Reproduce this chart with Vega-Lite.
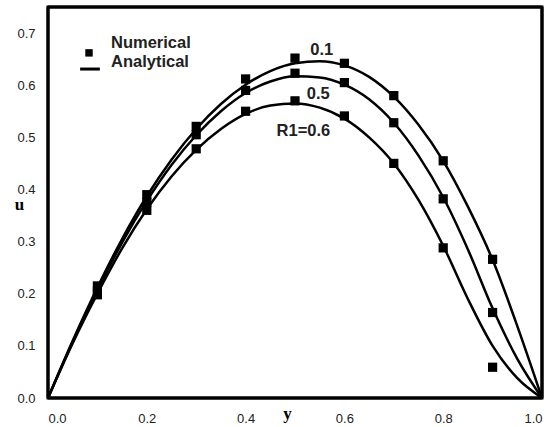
{
  "$schema": "https://vega.github.io/schema/vega-lite/v6.json",
  "width": 494,
  "height": 391,
  "autosize": {"type": "none"},
  "padding": {"left": 48, "top": 7, "right": 17, "bottom": 29},
  "background": "white",
  "view": {"stroke": "black", "strokeWidth": 3},
  "datasets": {
    "analytical": [
      {"x": 0, "u": 0, "s": "0.1"}, {"x": 0.05, "u": 0.110, "s": "0.1"}, {"x": 0.1, "u": 0.212, "s": "0.1"}, {"x": 0.15, "u": 0.305, "s": "0.1"}, {"x": 0.2, "u": 0.387, "s": "0.1"}, {"x": 0.25, "u": 0.457, "s": "0.1"}, {"x": 0.3, "u": 0.516, "s": "0.1"}, {"x": 0.35, "u": 0.564, "s": "0.1"}, {"x": 0.4, "u": 0.601, "s": "0.1"}, {"x": 0.45, "u": 0.627, "s": "0.1"}, {"x": 0.5, "u": 0.642, "s": "0.1"}, {"x": 0.55, "u": 0.646, "s": "0.1"}, {"x": 0.6, "u": 0.638, "s": "0.1"}, {"x": 0.65, "u": 0.616, "s": "0.1"}, {"x": 0.7, "u": 0.578, "s": "0.1"}, {"x": 0.75, "u": 0.524, "s": "0.1"}, {"x": 0.8, "u": 0.455, "s": "0.1"}, {"x": 0.85, "u": 0.367, "s": "0.1"}, {"x": 0.9, "u": 0.265, "s": "0.1"}, {"x": 0.95, "u": 0.138, "s": "0.1"}, {"x": 1.0, "u": 0, "s": "0.1"},
      {"x": 0, "u": 0, "s": "0.5"}, {"x": 0.05, "u": 0.108, "s": "0.5"}, {"x": 0.1, "u": 0.207, "s": "0.5"}, {"x": 0.15, "u": 0.298, "s": "0.5"}, {"x": 0.2, "u": 0.378, "s": "0.5"}, {"x": 0.25, "u": 0.447, "s": "0.5"}, {"x": 0.3, "u": 0.504, "s": "0.5"}, {"x": 0.35, "u": 0.550, "s": "0.5"}, {"x": 0.4, "u": 0.585, "s": "0.5"}, {"x": 0.45, "u": 0.607, "s": "0.5"}, {"x": 0.5, "u": 0.617, "s": "0.5"}, {"x": 0.55, "u": 0.615, "s": "0.5"}, {"x": 0.6, "u": 0.601, "s": "0.5"}, {"x": 0.65, "u": 0.573, "s": "0.5"}, {"x": 0.7, "u": 0.528, "s": "0.5"}, {"x": 0.75, "u": 0.465, "s": "0.5"}, {"x": 0.8, "u": 0.385, "s": "0.5"}, {"x": 0.85, "u": 0.285, "s": "0.5"}, {"x": 0.9, "u": 0.172, "s": "0.5"}, {"x": 0.95, "u": 0.075, "s": "0.5"}, {"x": 1.0, "u": 0, "s": "0.5"},
      {"x": 0, "u": 0, "s": "0.6"}, {"x": 0.05, "u": 0.105, "s": "0.6"}, {"x": 0.1, "u": 0.200, "s": "0.6"}, {"x": 0.15, "u": 0.287, "s": "0.6"}, {"x": 0.2, "u": 0.362, "s": "0.6"}, {"x": 0.25, "u": 0.425, "s": "0.6"}, {"x": 0.3, "u": 0.476, "s": "0.6"}, {"x": 0.35, "u": 0.516, "s": "0.6"}, {"x": 0.4, "u": 0.545, "s": "0.6"}, {"x": 0.45, "u": 0.561, "s": "0.6"}, {"x": 0.5, "u": 0.565, "s": "0.6"}, {"x": 0.55, "u": 0.557, "s": "0.6"}, {"x": 0.6, "u": 0.536, "s": "0.6"}, {"x": 0.65, "u": 0.500, "s": "0.6"}, {"x": 0.7, "u": 0.450, "s": "0.6"}, {"x": 0.75, "u": 0.380, "s": "0.6"}, {"x": 0.8, "u": 0.292, "s": "0.6"}, {"x": 0.85, "u": 0.190, "s": "0.6"}, {"x": 0.9, "u": 0.100, "s": "0.6"}, {"x": 0.95, "u": 0.038, "s": "0.6"}, {"x": 1.0, "u": 0, "s": "0.6"}
    ],
    "numerical": [
      {"x": 0.1, "u": 0.215, "s": "0.1"}, {"x": 0.2, "u": 0.390, "s": "0.1"}, {"x": 0.3, "u": 0.521, "s": "0.1"}, {"x": 0.4, "u": 0.612, "s": "0.1"}, {"x": 0.5, "u": 0.652, "s": "0.1"}, {"x": 0.6, "u": 0.642, "s": "0.1"}, {"x": 0.7, "u": 0.580, "s": "0.1"}, {"x": 0.8, "u": 0.455, "s": "0.1"}, {"x": 0.9, "u": 0.266, "s": "0.1"},
      {"x": 0.1, "u": 0.205, "s": "0.5"}, {"x": 0.2, "u": 0.375, "s": "0.5"}, {"x": 0.3, "u": 0.505, "s": "0.5"}, {"x": 0.4, "u": 0.590, "s": "0.5"}, {"x": 0.5, "u": 0.623, "s": "0.5"}, {"x": 0.6, "u": 0.605, "s": "0.5"}, {"x": 0.7, "u": 0.528, "s": "0.5"}, {"x": 0.8, "u": 0.382, "s": "0.5"}, {"x": 0.9, "u": 0.164, "s": "0.5"},
      {"x": 0.1, "u": 0.198, "s": "0.6"}, {"x": 0.2, "u": 0.360, "s": "0.6"}, {"x": 0.3, "u": 0.478, "s": "0.6"}, {"x": 0.4, "u": 0.550, "s": "0.6"}, {"x": 0.5, "u": 0.570, "s": "0.6"}, {"x": 0.6, "u": 0.541, "s": "0.6"}, {"x": 0.7, "u": 0.450, "s": "0.6"}, {"x": 0.8, "u": 0.288, "s": "0.6"}, {"x": 0.9, "u": 0.059, "s": "0.6"}
    ],
    "labels": [
      {"x": 0.554, "u": 0.668, "t": "0.1"},
      {"x": 0.547, "u": 0.583, "t": "0.5"},
      {"x": 0.517, "u": 0.513, "t": "R1=0.6"}
    ],
    "legendText": [
      {"x": 0.1275, "u": 0.681, "t": "Numerical"},
      {"x": 0.1275, "u": 0.645, "t": "Analytical"}
    ],
    "legendPoint": [{"x": 0.083, "u": 0.662}],
    "legendLine": [{"x": 0.065, "x2": 0.105, "u": 0.631}],
    "frameV": [{"x": 0, "u": 0, "u2": 0.75}, {"x": 1, "u": 0, "u2": 0.75}],
    "frameH": [{"x": 0, "x2": 1, "u": 0}, {"x": 0, "x2": 1, "u": 0.75}],
    "majorX": [{"x": 0}, {"x": 0.2}, {"x": 0.4}, {"x": 0.6}, {"x": 0.8}, {"x": 1.0}],
    "majorY": [{"u": 0}, {"u": 0.1}, {"u": 0.2}, {"u": 0.3}, {"u": 0.4}, {"u": 0.5}, {"u": 0.6}, {"u": 0.7}],
    "minorX": [{"x": 0.1}, {"x": 0.3}, {"x": 0.5}, {"x": 0.7}, {"x": 0.9}],
    "minorY": [{"u": 0.05}, {"u": 0.15}, {"u": 0.25}, {"u": 0.35}, {"u": 0.45}, {"u": 0.55}, {"u": 0.65}]
  },
  "encoding": {
    "x": {"field": "x", "type": "quantitative", "scale": {"domain": [0, 1], "nice": false},
      "axis": {"values": [0, 0.2, 0.4, 0.6, 0.8, 1.0], "format": ".1f", "grid": false, "domain": false, "ticks": false, "labelPadding": 14, "labelFont": "Liberation Sans", "labelFontSize": 13, "labelColor": "#222", "title": "y", "titleFont": "Liberation Serif", "titleFontWeight": "bold", "titleFontSize": 17, "titleColor": "black", "titleX": 239, "titleY": 20, "titleAlign": "center", "titleBaseline": "alphabetic"}},
    "y": {"field": "u", "type": "quantitative", "scale": {"domain": [0, 0.75], "nice": false},
      "axis": {"values": [0, 0.1, 0.2, 0.3, 0.4, 0.5, 0.6, 0.7], "format": ".1f", "grid": false, "domain": false, "ticks": false, "labelPadding": 13, "labelFont": "Liberation Sans", "labelFontSize": 13, "labelColor": "#222", "title": "u", "titleFont": "Liberation Serif", "titleFontWeight": "bold", "titleFontSize": 17, "titleColor": "black", "titleAngle": 0, "titleX": -29, "titleY": 197, "titleAlign": "center", "titleBaseline": "middle"}}
  },
  "layer": [
    {
      "data": {"name": "analytical"},
      "mark": {"type": "line", "interpolate": "monotone", "color": "black", "strokeWidth": 2.5},
      "encoding": {"detail": {"field": "s"}}
    },
    {
      "data": {"name": "frameV"},
      "mark": {"type": "rule", "color": "black", "strokeWidth": 3},
      "encoding": {"y2": {"field": "u2"}}
    },
    {
      "data": {"name": "frameH"},
      "mark": {"type": "rule", "color": "black", "strokeWidth": 3},
      "encoding": {"x2": {"field": "x2"}}
    },
    {
      "data": {"name": "majorX"},
      "mark": {"type": "tick", "orient": "vertical", "color": "black", "thickness": 2.5, "size": 8, "yOffset": 4},
      "encoding": {"y": {"datum": 0}}
    },
    {
      "data": {"name": "majorY"},
      "mark": {"type": "tick", "orient": "horizontal", "color": "black", "thickness": 2.5, "size": 10, "xOffset": -5},
      "encoding": {"x": {"datum": 0}}
    },
    {
      "data": {"name": "minorX"},
      "mark": {"type": "tick", "orient": "vertical", "color": "black", "thickness": 2.5, "size": 6, "yOffset": 3},
      "encoding": {"y": {"datum": 0}}
    },
    {
      "data": {"name": "minorY"},
      "mark": {"type": "tick", "orient": "horizontal", "color": "black", "thickness": 2.5, "size": 6, "xOffset": -3},
      "encoding": {"x": {"datum": 0}}
    },
    {
      "data": {"name": "numerical"},
      "mark": {"type": "point", "shape": "square", "filled": true, "color": "black", "opacity": 1, "size": 85}
    },
    {
      "data": {"name": "labels"},
      "mark": {"type": "text", "font": "Liberation Sans", "fontWeight": "bold", "fontSize": 16.5, "color": "#222", "align": "center", "baseline": "middle"},
      "encoding": {"text": {"field": "t"}}
    },
    {
      "data": {"name": "legendText"},
      "mark": {"type": "text", "font": "Liberation Sans", "fontWeight": "bold", "fontSize": 16.5, "color": "#222", "align": "left", "baseline": "middle"},
      "encoding": {"text": {"field": "t"}}
    },
    {
      "data": {"name": "legendPoint"},
      "mark": {"type": "point", "shape": "square", "filled": true, "color": "black", "opacity": 1, "size": 55}
    },
    {
      "data": {"name": "legendLine"},
      "mark": {"type": "rule", "color": "black", "strokeWidth": 3},
      "encoding": {"x2": {"field": "x2"}}
    }
  ]
}
